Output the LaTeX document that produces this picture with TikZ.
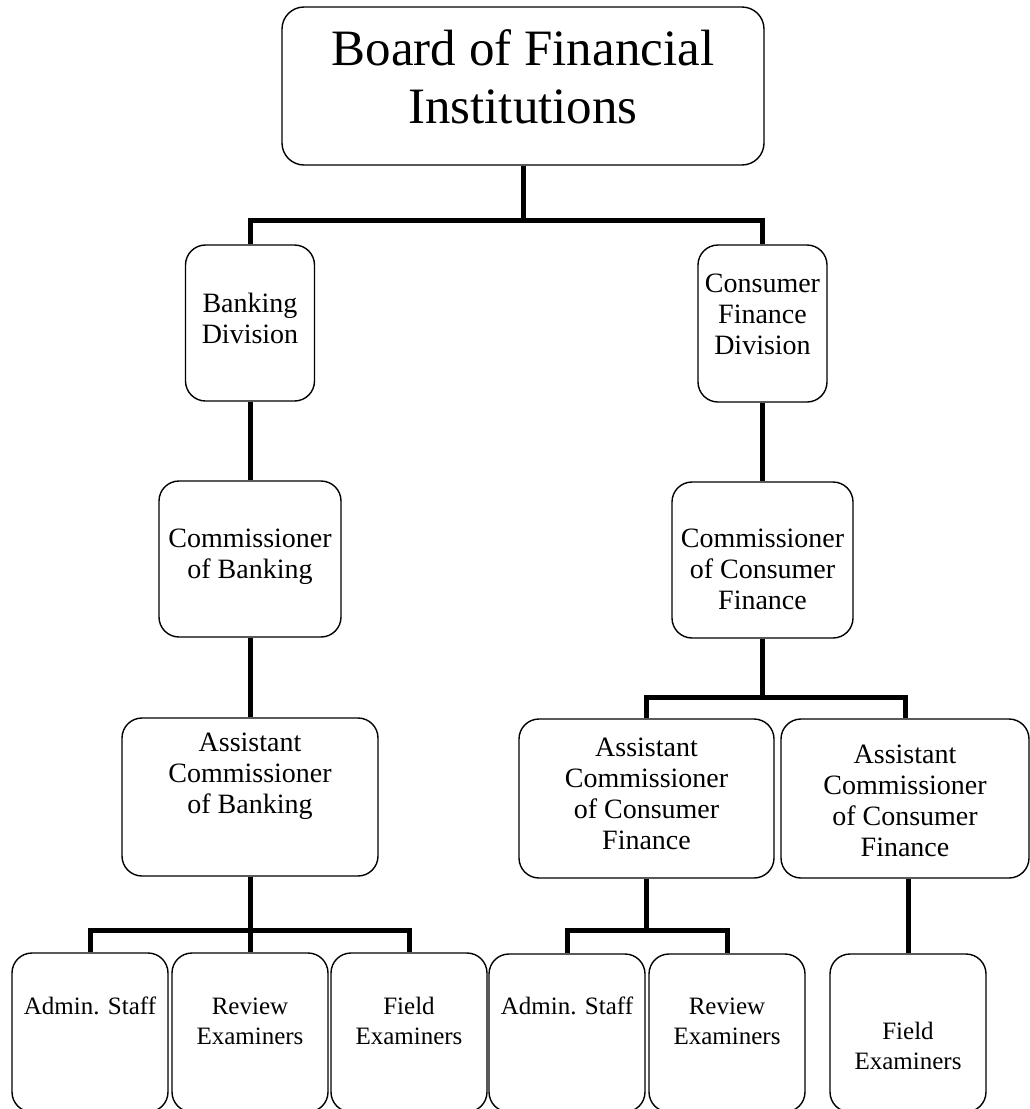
\documentclass[tikz,border=0pt]{standalone}
\usepackage{fontspec}
\setmainfont{Liberation Serif}
\begin{document}
\begin{tikzpicture}[x=1pt,y=-1pt,
  box/.style={draw, line width=1.4pt, fill=white, rounded corners=20pt, inner sep=0pt},
  conn/.style={line width=5pt, line join=miter},
  title/.style={align=center, inner sep=0pt, font=\fontsize{51}{58}\selectfont},
  txt/.style={align=center, inner sep=0pt, font=\fontsize{28}{31}\selectfont},
  small/.style={align=center, inner sep=0pt, font=\fontsize{25}{30}\selectfont}]
\useasboundingbox (0,0) rectangle (1030,1109);

% boxes
\node[box, rounded corners=22pt, minimum width=482pt, minimum height=158pt] (bfi) at (523,86) {};
\node[box, minimum width=129pt, minimum height=156pt] (bank) at (250,323) {};
\node[box, minimum width=129pt, minimum height=157pt] (cfd) at (762.5,323.5) {};
\node[box, minimum width=182pt, minimum height=156pt] (cob) at (250,559) {};
\node[box, minimum width=181pt, minimum height=156pt] (ccf) at (762.5,560) {};
\node[box, minimum width=256pt, minimum height=158pt] (acb) at (250,797) {};
\node[box, minimum width=255pt, minimum height=159pt] (acf1) at (646.5,798.5) {};
\node[box, minimum width=248pt, minimum height=159pt] (acf2) at (905,798.5) {};
\node[box, minimum width=156pt, minimum height=159pt] (as1) at (90,1032.5) {};
\node[box, minimum width=156pt, minimum height=159pt] (re1) at (250,1032.5) {};
\node[box, minimum width=156pt, minimum height=159pt] (fe1) at (409,1032.5) {};
\node[box, minimum width=156pt, minimum height=158pt] (as2) at (567,1033) {};
\node[box, minimum width=156pt, minimum height=158pt] (re2) at (727,1033) {};
\node[box, minimum width=156pt, minimum height=158pt] (fe3) at (908,1033) {};

% connectors
\coordinate (j1) at (523,220);
\draw[conn] (bfi.south) -- (j1);
\draw[conn] (bank.north) |- (j1) -| (cfd.north);
\draw[conn] (bank.south) -- (cob.north);
\draw[conn] (cob.south) -- (acb.north);
\coordinate (j3) at (250,930);
\draw[conn] (acb.south) -- (re1.north);
\draw[conn] (as1.north) |- (j3) -| (fe1.north);
\draw[conn] (cfd.south) -- (ccf.north);
\coordinate (j2) at (762.5,697);
\draw[conn] (ccf.south) -- (j2);
\draw[conn] (acf1.north) |- (j2) -| (acf2.north);
\coordinate (j4) at (646.5,930);
\draw[conn] (acf1.south) -- (j4);
\draw[conn] (as2.north) |- (j4) -| (re2.north);
\draw[conn] (fe3.north) -- (fe3.north |- acf2.south);

% texts
\node[title] (t-bfi) at (523,76.5) {Board of Financial\\Institutions};
\node[txt] (t-bank) at (250,318) {Banking\\Division};
\node[txt] (t-cfd) at (762.5,314) {Consumer\\Finance\\Division};
\node[txt] (t-cob) at (250,556.5) {Commissioner\\of Banking};
\node[txt] (t-ccf) at (762.5,569.5) {Commissioner\\of Consumer\\Finance};
\node[txt] (t-acb) at (250,776) {Assistant\\Commissioner\\of Banking};
\node[txt] (t-acf1) at (646.5,794) {Assistant\\Commissioner\\of Consumer\\Finance};
\node[txt] (t-acf2) at (905,800.5) {Assistant\\Commissioner\\of Consumer\\Finance};
\node[small] (t-as1) at (90,1006) {Admin. Staff};
\node[small] (t-re1) at (250,1021) {Review\\Examiners};
\node[small] (t-fe1) at (409,1021) {Field\\Examiners};
\node[small] (t-as2) at (567,1006) {Admin. Staff};
\node[small] (t-re2) at (727,1021) {Review\\Examiners};
\node[small] (t-fe3) at (908,1046) {Field\\Examiners};
\end{tikzpicture}
\end{document}
